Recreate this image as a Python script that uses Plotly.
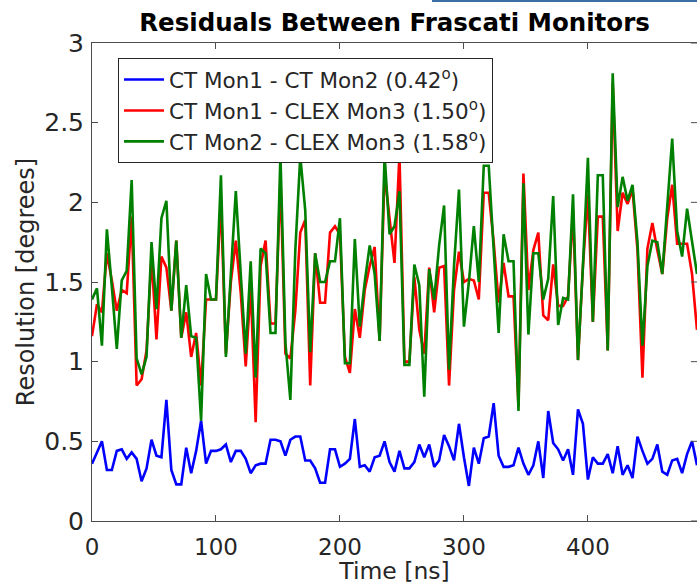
import plotly.graph_objects as go

# Residuals sampled every 4 ns
SAMPLE_PERIOD_NS = 4

ct1_ct2 = [
    0.36, 0.43, 0.50, 0.32, 0.32, 0.44, 0.45, 0.39, 0.43, 0.39,
    0.25, 0.33, 0.51, 0.41, 0.40, 0.76, 0.32, 0.23, 0.23, 0.46,
    0.30, 0.44, 0.63, 0.36, 0.44, 0.44, 0.45, 0.48, 0.37, 0.44,
    0.44, 0.39, 0.30, 0.35, 0.36, 0.36, 0.51, 0.51, 0.50, 0.41,
    0.51, 0.53, 0.53, 0.38, 0.38, 0.33, 0.24, 0.24, 0.45, 0.45,
    0.34, 0.36, 0.39, 0.64, 0.34, 0.35, 0.31, 0.40, 0.41, 0.50,
    0.37, 0.31, 0.44, 0.33, 0.33, 0.37, 0.48, 0.40, 0.48, 0.34,
    0.38, 0.54, 0.47, 0.38, 0.61, 0.40, 0.22, 0.46, 0.36, 0.52,
    0.53, 0.74, 0.41, 0.34, 0.34, 0.35, 0.46, 0.36, 0.29, 0.35,
    0.50, 0.27, 0.69, 0.49, 0.45, 0.38, 0.45, 0.29, 0.70, 0.61,
    0.26, 0.40, 0.36, 0.36, 0.42, 0.30, 0.47, 0.29, 0.35, 0.27,
    0.53, 0.44, 0.36, 0.39, 0.48, 0.31, 0.29, 0.38, 0.39, 0.30,
    0.42, 0.50, 0.35,
]

ct1_clex3 = [
    1.16, 1.36, 1.31, 1.68, 1.51, 1.32, 1.45, 1.43, 1.91, 0.85,
    0.89, 1.07, 1.66, 1.14, 1.66, 1.59, 1.32, 1.76, 1.15, 1.31,
    1.03, 1.18, 0.85, 1.39, 1.39, 1.39, 2.01, 1.05, 1.50, 1.76,
    1.43, 0.97, 1.47, 0.62, 1.60, 1.76, 1.24, 1.24, 2.15, 1.05,
    1.02, 1.32, 1.81, 1.89, 0.85, 1.68, 1.37, 1.37, 1.81, 1.85,
    1.80, 1.03, 0.93, 1.33, 1.15, 1.45, 1.60, 1.72, 1.13, 2.19,
    1.90, 1.62, 2.30, 1.00, 1.00, 1.53, 1.20, 1.05, 1.59, 1.31,
    1.59, 1.60, 0.85, 1.45, 1.69, 1.50, 1.52, 1.51, 1.39, 2.06,
    2.06, 1.75, 1.37, 1.62, 1.41, 1.41, 0.72, 2.18, 1.45, 1.70,
    1.81, 1.29, 1.26, 1.61, 1.35, 1.35, 1.41, 1.95, 1.01, 1.60,
    2.05, 1.25, 1.91, 1.91, 1.07, 2.75, 1.82, 2.06, 1.99, 2.08,
    1.70, 0.90, 1.71, 1.87, 1.70, 1.55, 1.90, 2.11, 1.74, 1.74,
    1.74, 1.55, 1.20,
]

ct2_clex3 = [
    1.39, 1.46, 1.10, 1.83, 1.47, 1.08, 1.51, 1.57, 2.14, 1.02,
    0.92, 1.03, 1.75, 1.33, 1.90, 2.01, 1.32, 1.76, 1.15, 1.48,
    1.16, 1.15, 0.63, 1.55, 1.39, 1.39, 2.17, 1.03, 1.55, 2.07,
    1.55, 1.05, 1.63, 0.90, 1.71, 1.68, 1.18, 1.18, 2.30, 1.12,
    0.76, 1.70, 2.29, 1.95, 1.06, 1.68, 1.50, 1.50, 1.63, 1.63,
    1.90, 0.99, 0.99, 1.77, 1.22, 1.50, 1.73, 1.55, 1.13, 2.30,
    1.80, 1.85, 2.07, 0.98, 0.98, 1.61, 1.48, 0.78, 1.58, 1.39,
    1.73, 1.98, 0.95, 1.60, 2.08, 1.22, 1.50, 1.85, 1.50, 2.23,
    2.23, 1.70, 1.18, 1.80, 1.63, 1.63, 0.69, 2.12, 1.17, 1.68,
    1.68, 1.39, 1.52, 2.04, 1.23, 1.40, 1.39, 2.05, 1.01, 1.60,
    2.28, 1.25, 2.17, 2.17, 1.07, 2.81, 1.97, 2.16, 2.01, 2.11,
    1.75, 1.10, 1.60, 1.76, 1.75, 1.55, 2.00, 2.40, 1.82, 1.66,
    1.96, 1.76, 1.55,
]

series_names = [
    "CT Mon1 - CT Mon2 (0.42<sup>o</sup>)",
    "CT Mon1 - CLEX Mon3 (1.50<sup>o</sup>)",
    "CT Mon2 - CLEX Mon3 (1.58<sup>o</sup>)",
]
series_colors = ["#0000ff", "#ff0000", "#008000"]

x_ticks = [0, 100, 200, 300, 400]
y_ticks = [0, 0.5, 1, 1.5, 2, 2.5, 3]
y_tick_text = ["0", "0.5", "1", "1.5", "2", "2.5", "3"]

time_ns = [i * SAMPLE_PERIOD_NS for i in range(len(ct1_ct2))]

AXIS_COLOR = "#4d4d4d"
TEXT_COLOR = "#262626"
FONT = "DejaVu Sans"

fig = go.Figure()
for values, name, color in zip([ct1_ct2, ct1_clex3, ct2_clex3], series_names, series_colors):
    fig.add_trace(go.Scatter(
        x=time_ns, y=values, mode="lines", name=name,
        line=dict(color=color, width=2.6),
    ))

# right-hand tick marks (the right spine itself falls outside the canvas)
for yv in y_ticks:
    fig.add_shape(type="line", xref="paper", yref="y",
                  x0=0.99, x1=1.0, y0=yv, y1=yv,
                  line=dict(color=AXIS_COLOR, width=1))

# steel-blue strip along the upper right edge
fig.add_shape(type="line", xref="paper", yref="paper",
              x0=(432 - 92) / 605, x1=1.0, y0=1 + 42 / 478, y1=1 + 42 / 478,
              line=dict(color="#3a6ea5", width=2))

fig.update_layout(
    width=697, height=585,
    margin=dict(l=92, r=0, t=43, b=64),
    paper_bgcolor="white", plot_bgcolor="white",
    font=dict(family=FONT, color=TEXT_COLOR, size=25),
    title=dict(text="<b>Residuals Between Frascati Monitors</b>",
               font=dict(family=FONT, size=24.5, color="#000000"),
               x=0.5, xref="paper", xanchor="center",
               y=1 - 22 / 585, yref="container", yanchor="middle"),
    showlegend=True,
    legend=dict(x=(118 - 92) / 605, y=1 - (58 - 43) / 478,
                xanchor="left", yanchor="top",
                bgcolor="white", bordercolor="#262626", borderwidth=1,
                font=dict(family=FONT, size=21.5, color=TEXT_COLOR),
                itemwidth=40, tracegroupgap=0),
    xaxis=dict(range=[0, 488], tickmode="array", tickvals=x_ticks,
               ticks="inside", ticklen=6, tickcolor=AXIS_COLOR,
               ticklabelstandoff=5, tickfont=dict(size=23),
               showline=True, linecolor=AXIS_COLOR, linewidth=1,
               mirror="ticks", showgrid=False, zeroline=False, automargin=False,
               title=dict(text="Time [ns]", standoff=1, font=dict(size=23.5))),
    yaxis=dict(range=[0, 3], tickmode="array", tickvals=y_ticks, ticktext=y_tick_text,
               ticks="inside", ticklen=6, tickcolor=AXIS_COLOR,
               ticklabelstandoff=2,
               showline=True, linecolor=AXIS_COLOR, linewidth=1,
               showgrid=False, zeroline=False, automargin=False,
               title=dict(text="Resolution [degrees]", standoff=2, font=dict(size=24))),
)

fig.write_html("out.html")
